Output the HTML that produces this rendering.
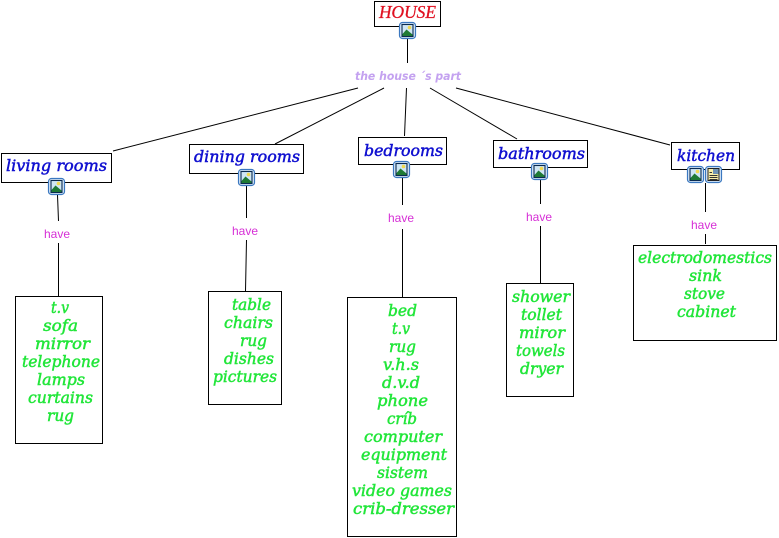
<!DOCTYPE html>
<html><head><meta charset="utf-8"><style>
html,body{margin:0;padding:0;background:#fff;width:779px;height:538px;overflow:hidden}
svg{display:block}
.t{font-family:"DejaVu Serif",serif;font-style:italic;font-size:16px;fill:#1010d0;stroke:#1010d0;stroke-width:.5}
.g{font-family:"DejaVu Serif",serif;font-style:italic;font-size:16px;fill:#22e63a;stroke:#22e63a;stroke-width:.5}
.h{font-family:"Liberation Sans",sans-serif;font-size:12px;fill:#d62fd6}
.b{fill:#fff;stroke:#000;stroke-width:1}
.l{stroke:#000;stroke-width:1;fill:none}
</style></head><body>
<svg width="779" height="538" viewBox="0 0 779 538" xmlns="http://www.w3.org/2000/svg">
<defs>
<g id="pic">
<rect x="0.5" y="0.5" width="16" height="16" rx="3" fill="#d8e8f8" stroke="#3b78c0" stroke-width="1.2"/>
<rect x="3" y="2.500" width="11" height="12" fill="#cfe6f5" stroke="#0a2a50" stroke-width="1.1"/>
<circle cx="10.500" cy="5.500" r="1.800" fill="#f2d950"/>
<path d="M3.500 14 V12 L7.500 7.500 L13.500 12.500 V14 Z" fill="#1f7a35"/>
</g>
<g id="doc">
<rect x="0.5" y="0.5" width="16" height="16" rx="3" fill="#d8e8f8" stroke="#3b78c0" stroke-width="1.2"/>
<rect x="3" y="2.500" width="11" height="12" fill="#f8eea8" stroke="#222" stroke-width="1"/>
<rect x="8" y="3" width="5.500" height="5" fill="#6f93b5"/>
<path d="M4.500 6.500h2.500M4.500 9.500h8M4.500 11.500h8M4.500 13.500h8" stroke="#333" stroke-width="1"/>
</g>
</defs>

<!-- connectors -->
<path class="l" d="M407.500 39V63"/>
<path class="l" d="M113 151L358 88"/>
<path class="l" d="M275 144L384 88"/>
<path class="l" d="M404.500 136L406.500 88"/>
<path class="l" d="M517 139L430 88"/>
<path class="l" d="M670 145L456 88"/>
<path class="l" d="M57.500 195L58.500 221M58.500 243V296"/>
<path class="l" d="M246.500 186V218M246.500 240L245.500 291"/>
<path class="l" d="M402.500 177V205M402.500 229V297"/>
<path class="l" d="M540.500 180V204M540.500 226V283"/>
<path class="l" d="M705.500 183V212M705.500 234V244"/>

<!-- top -->
<rect class="b" x="374.500" y="1.500" width="66" height="25"/>
<text x="379" y="18" font-family="Liberation Serif,serif" font-style="italic" font-size="18" fill="#e01020" stroke="#e01020" stroke-width=".3" textLength="57" lengthAdjust="spacingAndGlyphs">HOUSE</text>
<use href="#pic" x="399" y="22"/>
<text x="355" y="80" font-family="DejaVu Sans,sans-serif" font-style="italic" font-weight="bold" font-size="11.500" fill="#c4a2f0" textLength="106" lengthAdjust="spacingAndGlyphs">the house ´s part</text>

<!-- titles -->
<rect class="b" x="1.500" y="153.500" width="110" height="29"/>
<text class="t" x="6" y="171" textLength="101" lengthAdjust="spacingAndGlyphs">living rooms</text>
<use href="#pic" x="48" y="178"/>
<rect class="b" x="189.500" y="144.500" width="114" height="29"/>
<text class="t" x="194" y="162" textLength="106" lengthAdjust="spacingAndGlyphs">dining rooms</text>
<use href="#pic" x="238" y="169"/>
<rect class="b" x="358.500" y="137.500" width="88" height="27"/>
<text class="t" x="364" y="156" textLength="79" lengthAdjust="spacingAndGlyphs">bedrooms</text>
<use href="#pic" x="393" y="161"/>
<rect class="b" x="493.500" y="140.500" width="94" height="27"/>
<text class="t" x="498" y="159" textLength="87" lengthAdjust="spacingAndGlyphs">bathrooms</text>
<use href="#pic" x="531" y="163"/>
<rect class="b" x="671.500" y="142.500" width="68" height="27"/>
<text class="t" x="677" y="161" textLength="58" lengthAdjust="spacingAndGlyphs">kitchen</text>
<use href="#pic" x="687" y="166"/>
<use href="#doc" x="705" y="166"/>

<!-- have labels -->
<text class="h" x="44" y="238" textLength="26" lengthAdjust="spacingAndGlyphs">have</text>
<text class="h" x="232" y="235" textLength="26" lengthAdjust="spacingAndGlyphs">have</text>
<text class="h" x="388" y="222" textLength="26" lengthAdjust="spacingAndGlyphs">have</text>
<text class="h" x="526" y="221" textLength="26" lengthAdjust="spacingAndGlyphs">have</text>
<text class="h" x="691" y="229" textLength="26" lengthAdjust="spacingAndGlyphs">have</text>

<!-- living list -->
<rect class="b" x="15.500" y="296.500" width="87" height="147"/>
<text class="g" x="51" y="313" textLength="18" lengthAdjust="spacingAndGlyphs">t.v</text>
<text class="g" x="43" y="331" textLength="35" lengthAdjust="spacingAndGlyphs">sofa</text>
<text class="g" x="35" y="349" textLength="55" lengthAdjust="spacingAndGlyphs">mirror</text>
<text class="g" x="22" y="367" textLength="78" lengthAdjust="spacingAndGlyphs">telephone</text>
<text class="g" x="37" y="385" textLength="48" lengthAdjust="spacingAndGlyphs">lamps</text>
<text class="g" x="28" y="403" textLength="65" lengthAdjust="spacingAndGlyphs">curtains</text>
<text class="g" x="47" y="421" textLength="27" lengthAdjust="spacingAndGlyphs">rug</text>

<!-- dining list -->
<rect class="b" x="208.500" y="291.500" width="73" height="113"/>
<text class="g" x="232" y="310" textLength="39" lengthAdjust="spacingAndGlyphs">table</text>
<text class="g" x="224" y="328" textLength="49" lengthAdjust="spacingAndGlyphs">chairs</text>
<text class="g" x="240" y="346" textLength="27" lengthAdjust="spacingAndGlyphs">rug</text>
<text class="g" x="224" y="364" textLength="50" lengthAdjust="spacingAndGlyphs">dishes</text>
<text class="g" x="213" y="382" textLength="64" lengthAdjust="spacingAndGlyphs">pictures</text>

<!-- bedrooms list -->
<rect class="b" x="347.500" y="297.500" width="109" height="239"/>
<text class="g" x="388" y="316" textLength="29" lengthAdjust="spacingAndGlyphs">bed</text>
<text class="g" x="392" y="334" textLength="18" lengthAdjust="spacingAndGlyphs">t.v</text>
<text class="g" x="389" y="352" textLength="27" lengthAdjust="spacingAndGlyphs">rug</text>
<text class="g" x="383" y="370" textLength="36" lengthAdjust="spacingAndGlyphs">v.h.s</text>
<text class="g" x="382" y="388" textLength="38" lengthAdjust="spacingAndGlyphs">d.v.d</text>
<text class="g" x="377" y="406" textLength="51" lengthAdjust="spacingAndGlyphs">phone</text>
<text class="g" x="387" y="424" textLength="30" lengthAdjust="spacingAndGlyphs">críb</text>
<text class="g" x="364" y="442" textLength="78" lengthAdjust="spacingAndGlyphs">computer</text>
<text class="g" x="361" y="460" textLength="86" lengthAdjust="spacingAndGlyphs">equipment</text>
<text class="g" x="377" y="478" textLength="51" lengthAdjust="spacingAndGlyphs">sistem</text>
<text class="g" x="352" y="496" textLength="100" lengthAdjust="spacingAndGlyphs">video games</text>
<text class="g" x="353" y="514" textLength="101" lengthAdjust="spacingAndGlyphs">crib-dresser</text>

<!-- bathrooms list -->
<rect class="b" x="506.500" y="283.500" width="67" height="113"/>
<text class="g" x="512" y="302" textLength="58" lengthAdjust="spacingAndGlyphs">shower</text>
<text class="g" x="521" y="320" textLength="41" lengthAdjust="spacingAndGlyphs">tollet</text>
<text class="g" x="519" y="338" textLength="46" lengthAdjust="spacingAndGlyphs">miror</text>
<text class="g" x="516" y="356" textLength="49" lengthAdjust="spacingAndGlyphs">towels</text>
<text class="g" x="520" y="374" textLength="43" lengthAdjust="spacingAndGlyphs">dryer</text>

<!-- kitchen list -->
<rect class="b" x="633.500" y="245.500" width="143" height="95"/>
<text class="g" x="638" y="263" textLength="134" lengthAdjust="spacingAndGlyphs">electrodomestics</text>
<text class="g" x="689" y="281" textLength="33" lengthAdjust="spacingAndGlyphs">sink</text>
<text class="g" x="684" y="299" textLength="41" lengthAdjust="spacingAndGlyphs">stove</text>
<text class="g" x="677" y="317" textLength="59" lengthAdjust="spacingAndGlyphs">cabinet</text>
</svg>
</body></html>
